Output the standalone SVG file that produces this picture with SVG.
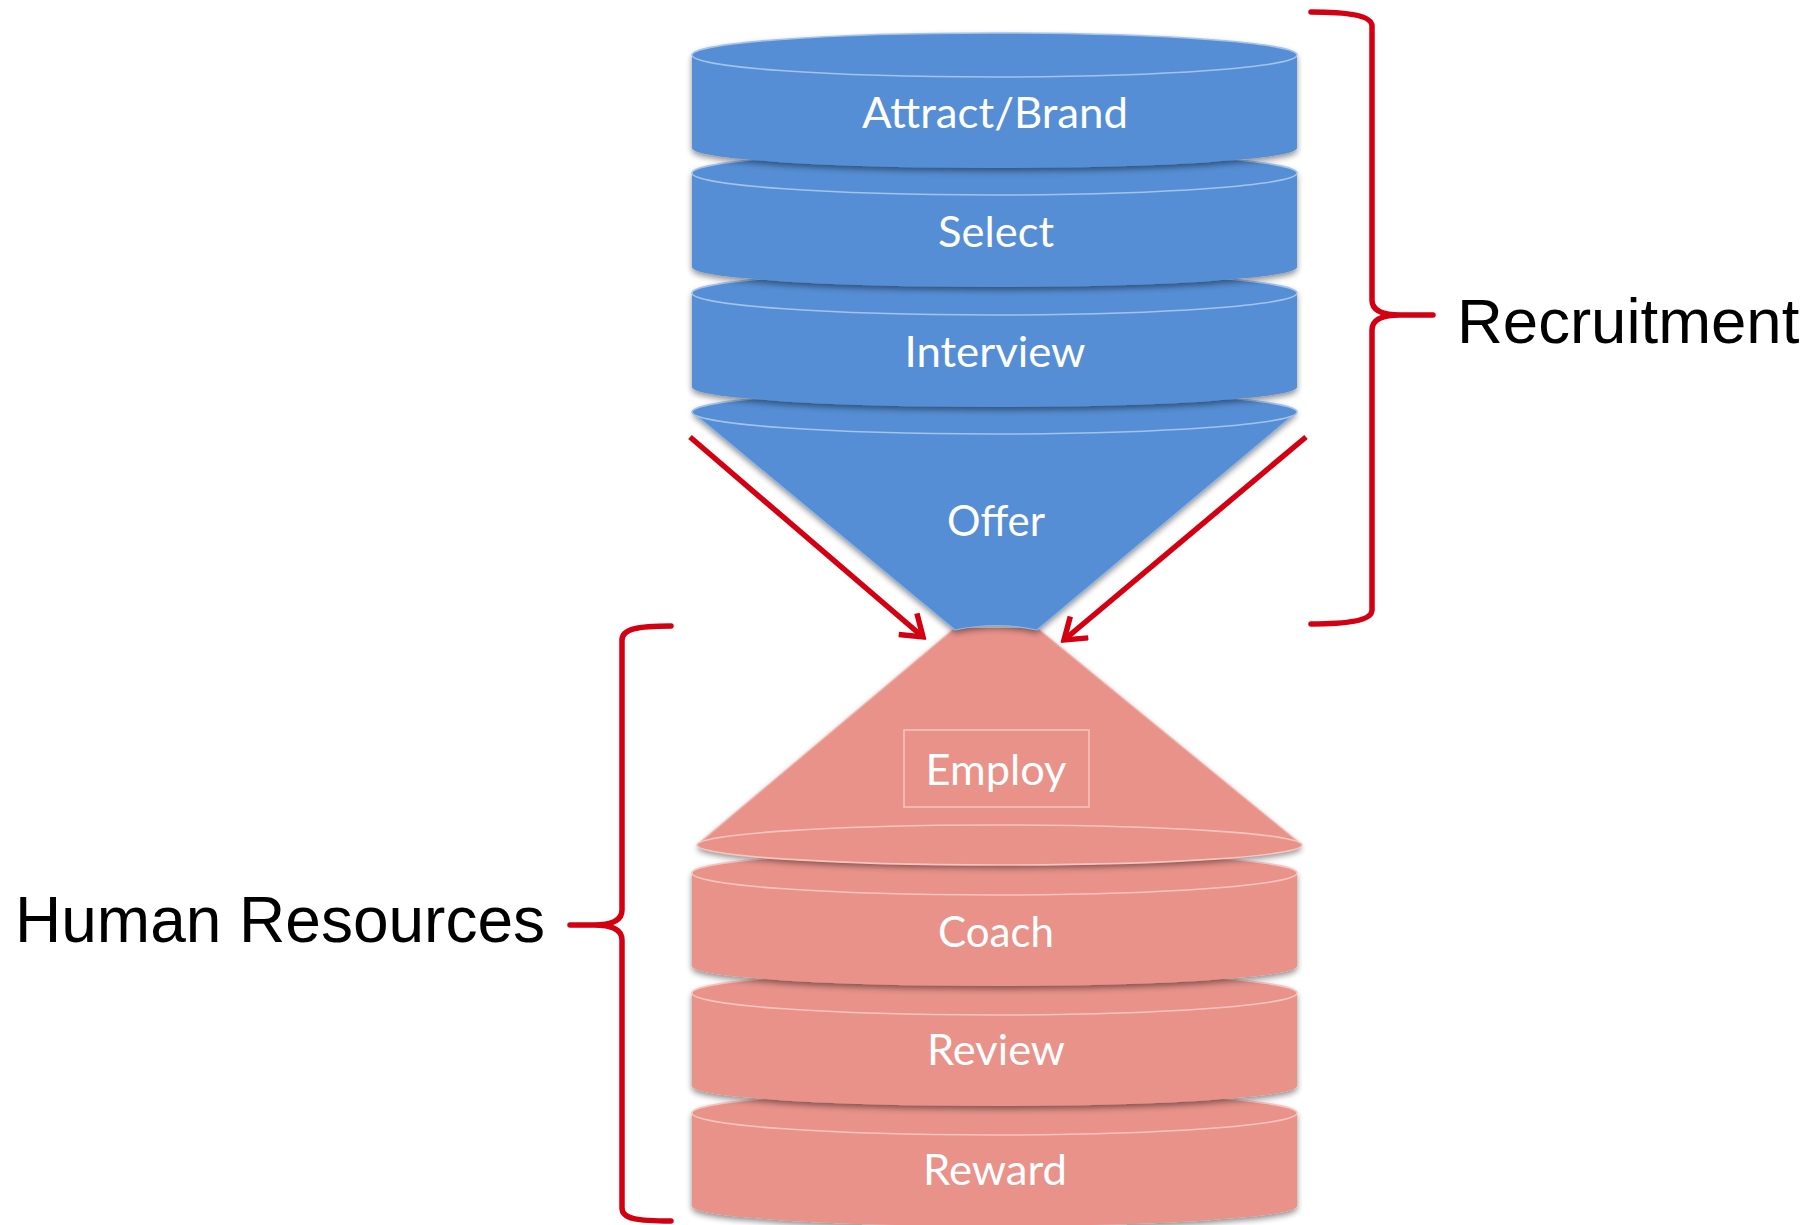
<svg xmlns="http://www.w3.org/2000/svg" width="1813" height="1225" viewBox="0 0 1813 1225">
<style>
.bg{fill:#ffffff}
.fb{fill:#558ed5}
.eb{fill:#558ed5;stroke:#a4c3ea;stroke-width:1.6}
.fr{fill:#e8928a}
.er{fill:#e8928a;stroke:#f7c4be;stroke-width:1.6}
.lbl{font-family:"Lato","Open Sans","Liberation Sans",sans-serif;font-size:42px;fill:#ffffff;text-anchor:middle}
.big{font-family:"Liberation Sans",Arial,sans-serif;font-size:64px;fill:#000000}
.brace{fill:none;stroke:#d40012;stroke-width:5.5;stroke-linecap:round;stroke-linejoin:round}
.arr{fill:none;stroke:#d40012;stroke-width:5.5;stroke-linecap:butt}
</style>
<defs>
<filter id="sh" x="-10%" y="-20%" width="120%" height="150%">
<feGaussianBlur in="SourceAlpha" stdDeviation="3"/>
<feOffset dx="0" dy="3" result="b"/>
<feComponentTransfer><feFuncA type="linear" slope="0.45"/></feComponentTransfer>
<feMerge><feMergeNode/><feMergeNode in="SourceGraphic"/></feMerge>
</filter>
<marker id="ah" markerUnits="userSpaceOnUse" viewBox="-24 -16 28 32" refX="0" refY="0" markerWidth="28" markerHeight="32" orient="auto">
<path d="M-20,-14 L0,0 L-20,14" fill="none" stroke="#d40012" stroke-width="5.5" stroke-linejoin="miter"/>
</marker>
</defs>
<rect class="bg" x="0" y="0" width="1813" height="1225"/>

<!-- Red lower stack (drawn bottom first) -->
<g id="reward">
<path class="fr" filter="url(#sh)" d="M692,1113 L692,1206 A302.5,20 0 0 0 1297,1206 L1297,1113 A302.5,22 0 0 0 692,1113 Z"/>
<ellipse class="er" cx="994.5" cy="1113" rx="302.5" ry="22"/>
<text class="lbl" x="995" y="1185" textLength="144" lengthAdjust="spacingAndGlyphs">Reward</text>
</g>
<g id="review">
<path class="fr" filter="url(#sh)" d="M692,993 L692,1086 A302.5,20 0 0 0 1297,1086 L1297,993 A302.5,22 0 0 0 692,993 Z"/>
<ellipse class="er" cx="994.5" cy="993" rx="302.5" ry="22"/>
<text class="lbl" x="996" y="1065" textLength="138" lengthAdjust="spacingAndGlyphs">Review</text>
</g>
<g id="coach">
<path class="fr" filter="url(#sh)" d="M692,873 L692,966 A302.5,20 0 0 0 1297,966 L1297,873 A302.5,22 0 0 0 692,873 Z"/>
<ellipse class="er" cx="994.5" cy="873" rx="302.5" ry="22"/>
<text class="lbl" x="996" y="947" textLength="116" lengthAdjust="spacingAndGlyphs">Coach</text>
</g>
<g id="employ">
<path class="fr" filter="url(#sh)" d="M955,628 L697,845 A302.5,20 0 0 0 1302,845 L1037,628 Z"/>
<path d="M955,628 L697,845 M1302,845 L1037,628" fill="none" stroke="#f2b3ac" stroke-width="1.2"/>
<ellipse class="er" cx="999.5" cy="845" rx="302.5" ry="20"/>
<rect x="904" y="730" width="185" height="77" fill="none" stroke="#f4c2bc" stroke-width="1.6"/>
<text class="lbl" x="996" y="785" textLength="141" lengthAdjust="spacingAndGlyphs">Employ</text>
</g>

<!-- Blue upper stack -->
<g id="offer">
<path class="fb" filter="url(#sh)" d="M692,412 L955,630 Q996,621 1037,630 L1297,412 A302.5,22 0 0 0 692,412 Z"/>
<path d="M692,412 L955,630 Q996,621 1037,630 L1297,412" fill="none" stroke="#8fb5e6" stroke-width="1.2"/>
<ellipse class="eb" cx="994.5" cy="412" rx="302.5" ry="22"/>
<text class="lbl" x="996" y="536" textLength="98" lengthAdjust="spacingAndGlyphs">Offer</text>
</g>
<g id="interview">
<path class="fb" filter="url(#sh)" d="M692,293 L692,387 A302.5,20 0 0 0 1297,387 L1297,293 A302.5,22 0 0 0 692,293 Z"/>
<ellipse class="eb" cx="994.5" cy="293" rx="302.5" ry="22"/>
<text class="lbl" x="995" y="367" textLength="181" lengthAdjust="spacingAndGlyphs">Interview</text>
</g>
<g id="select">
<path class="fb" filter="url(#sh)" d="M692,173 L692,267 A302.5,20 0 0 0 1297,267 L1297,173 A302.5,22 0 0 0 692,173 Z"/>
<ellipse class="eb" cx="994.5" cy="173" rx="302.5" ry="22"/>
<text class="lbl" x="996" y="247" textLength="116" lengthAdjust="spacingAndGlyphs">Select</text>
</g>
<g id="attract">
<path class="fb" filter="url(#sh)" d="M692,55 L692,148 A302.5,20 0 0 0 1297,148 L1297,55 A302.5,22 0 0 0 692,55 Z"/>
<ellipse class="eb" cx="994.5" cy="55" rx="302.5" ry="22"/>
<text class="lbl" x="995" y="128" textLength="266" lengthAdjust="spacingAndGlyphs">Attract/Brand</text>
</g>

<!-- Connectors -->
<g id="connectors">
<line class="arr" x1="690" y1="437" x2="923" y2="637" marker-end="url(#ah)"/>
<line class="arr" x1="1306" y1="437" x2="1064" y2="640" marker-end="url(#ah)"/>
</g>

<g id="recruitment">
<path class="brace" d="M1311,12 C1345,12 1372,15 1372,26 L1372,300 C1372,311 1384,315 1400,315 L1433,315 M1400,315 C1384,315 1372,319 1372,330 L1372,610 C1372,621 1345,624 1311,624"/>
<text class="big" x="1457" y="343" style="font-size:63.5px">Recruitment</text>
</g>
<g id="human-resources">
<path class="brace" d="M671,626 C637,626 622,629 622,640 L622,910 C622,921 610,925 594,925 L570,925 M594,925 C610,925 622,929 622,940 L622,1208 C622,1219 637,1221 671,1221"/>
<text class="big" x="15" y="942">Human Resources</text>
</g>
</svg>
